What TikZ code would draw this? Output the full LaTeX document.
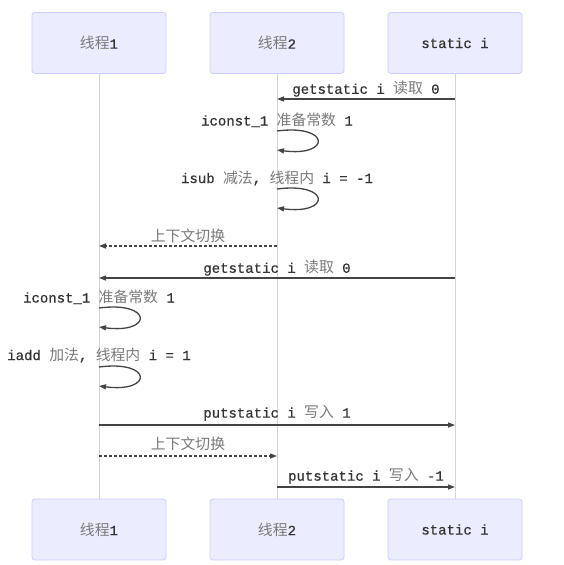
\documentclass[tikz,border=0pt]{standalone}
\usepackage{fontspec}
\usetikzlibrary{arrows.meta}
\newfontfamily\monof[FakeBold=0.6]{Liberation Mono}
\newfontfamily\cjkf[Scale=1.06]{Noto Sans CJK SC}
\definecolor{boxfill}{HTML}{ECECFF}
\definecolor{boxdraw}{HTML}{CCCCFF}
\definecolor{lifegray}{HTML}{D4D4D4}
\definecolor{txt}{HTML}{333333}
\definecolor{zhgray}{HTML}{7A7A7A}
\definecolor{arr}{HTML}{444444}
\newcommand\zh[1]{{\cjkf\color{zhgray}#1}}
\tikzset{
  actor/.style={draw=boxdraw, fill=boxfill, line width=0.8pt, rounded corners=3pt,
    minimum width=134pt, minimum height=61pt, inner sep=0pt,
    font=\fontsize{14}{16}\selectfont\monof, text=txt},
  life/.style={draw=lifegray, line width=1pt},
  msg/.style={draw=arr, line width=1.3pt, -{Triangle[length=7pt,width=5pt]}},
  swmsg/.style={msg, dash pattern=on 3pt off 2pt},
  lbl/.style={font=\fontsize{14}{16}\selectfont\monof, text=txt, inner sep=0pt}
}
\begin{document}
\begin{tikzpicture}[x=1pt,y=-1pt]
\useasboundingbox[fill=white] (0,0) rectangle (564,565);
% actors
\node[actor] (t1top) at (99,43) {\zh{线程}1};
\node[actor] (t2top) at (277,43) {\zh{线程}2};
\node[actor] (stop)  at (455,43) {static i};
\node[actor] (t1bot) at (99,529.5) {\zh{线程}1};
\node[actor] (t2bot) at (277,529.5) {\zh{线程}2};
\node[actor] (sbot)  at (455,529.5) {static i};
% lifelines
\draw[life] (t1top.south) -- (t1bot.north);
\draw[life] (t2top.south) -- (t2bot.north);
\draw[life] (stop.south) -- (sbot.north);
% message coordinates
\coordinate (m1s) at (455,99);  \coordinate (m1e) at (277,99);
\coordinate (l1s) at (277,131); \coordinate (l1e) at (277,150);
\coordinate (l2s) at (277,189); \coordinate (l2e) at (277,208);
\coordinate (m2s) at (277,246); \coordinate (m2e) at (99,246);
\coordinate (m3s) at (455,278); \coordinate (m3e) at (99,278);
\coordinate (l3s) at (99,308);  \coordinate (l3e) at (99,327);
\coordinate (l4s) at (99,367);  \coordinate (l4e) at (99,386);
\coordinate (m4s) at (99,425);  \coordinate (m4e) at (455,425);
\coordinate (m5s) at (99,456);  \coordinate (m5e) at (277,456);
\coordinate (m6s) at (277,487); \coordinate (m6e) at (455,487);
% messages
\draw[msg] (m1s) -- (m1e) node[lbl, midway, yshift=10pt] {getstatic i \zh{读取} 0};
\draw[msg] (l1s) .. controls (331,124) and (331,157) .. (l1e);
\node[lbl] (t1) at (277,120) {iconst\_1 \zh{准备常数} 1};
\draw[msg] (l2s) .. controls (331,182) and (331,215) .. (l2e);
\node[lbl] (t2) at (277,178) {isub \zh{减法}, \zh{线程内} i = -1};
\draw[swmsg] (m2s) -- (m2e) node[lbl, midway, yshift=10pt] {\zh{上下文切换}};
\draw[msg] (m3s) -- (m3e) node[lbl, midway, yshift=10pt] {getstatic i \zh{读取} 0};
\draw[msg] (l3s) .. controls (153,301) and (153,334) .. (l3e);
\node[lbl] (t3) at (99,297) {iconst\_1 \zh{准备常数} 1};
\draw[msg] (l4s) .. controls (153,360) and (153,393) .. (l4e);
\node[lbl] (t4) at (99,355) {iadd \zh{加法}, \zh{线程内} i = 1};
\draw[msg] (m4s) -- (m4e) node[lbl, midway, yshift=12pt] {putstatic i \zh{写入} 1};
\draw[swmsg] (m5s) -- (m5e) node[lbl, midway, yshift=12pt] {\zh{上下文切换}};
\draw[msg] (m6s) -- (m6e) node[lbl, midway, yshift=11pt] {putstatic i \zh{写入} -1};
\end{tikzpicture}
\end{document}
